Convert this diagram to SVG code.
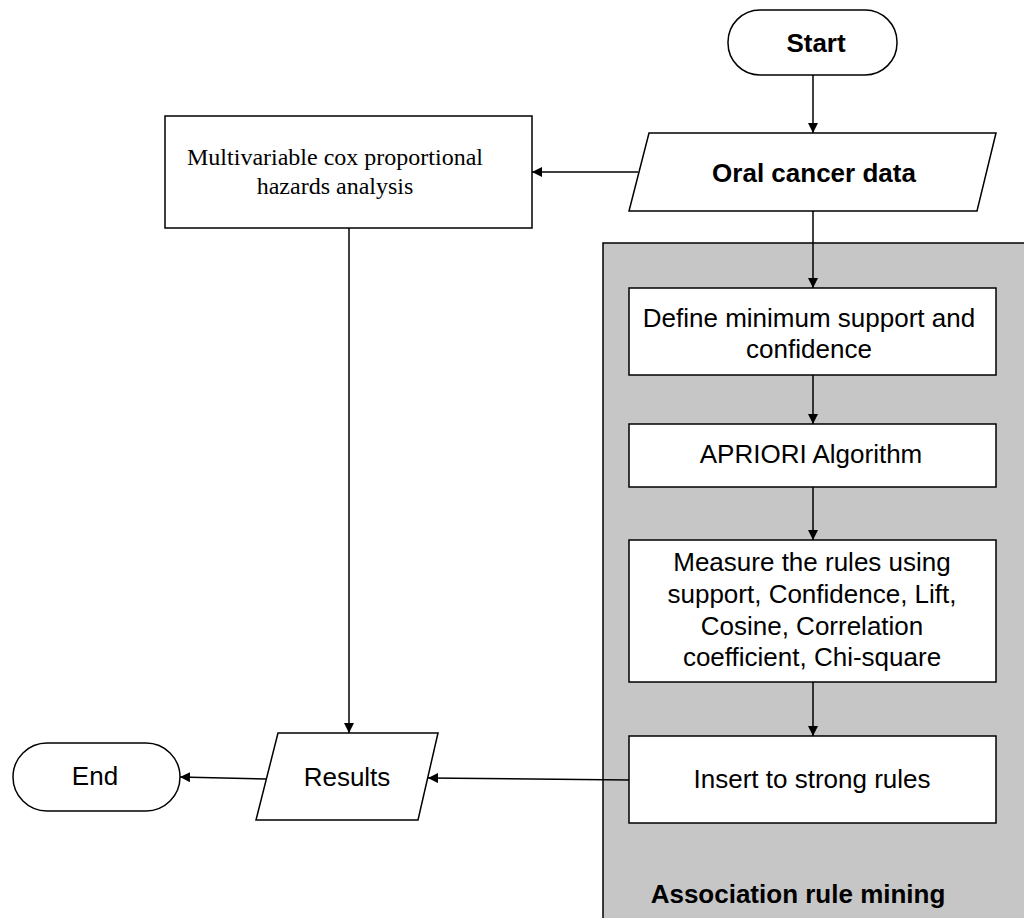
<svg xmlns="http://www.w3.org/2000/svg" width="1024" height="918" viewBox="0 0 1024 918">
<style>
.n{fill:#fff;stroke:#000;stroke-width:1.5}
.t{font-family:"Liberation Sans",Arial,sans-serif;font-size:26px;fill:#000;text-anchor:middle}
.b{font-weight:bold}
.s{font-family:"Liberation Serif","Times New Roman",serif;font-size:24px;fill:#000;text-anchor:middle}
.c{stroke:#000;stroke-width:1.5;fill:none;marker-end:url(#ah)}
</style>
<defs>
<marker id="ah" viewBox="0 0 10 10" refX="10" refY="5" markerWidth="10" markerHeight="10" markerUnits="userSpaceOnUse" orient="auto">
<path d="M0,0 L10,5 L0,10 z" fill="#000"/>
</marker>
</defs>
<rect width="1024" height="918" fill="#fff"/>
<g id="cluster">
<rect x="603" y="243" width="430" height="690" fill="#c6c6c6" stroke="#000" stroke-width="1.5"/>
<text class="t b" x="798" y="903">Association rule mining</text>
</g>
<g id="start">
<rect class="n" x="728" y="10" width="169" height="65" rx="32"/>
<text class="t b" x="816" y="52">Start</text>
</g>
<g id="oral">
<polygon class="n" points="649,133 996,133 977,211 629,211"/>
<text class="t b" x="814" y="182">Oral cancer data</text>
</g>
<g id="cox">
<rect class="n" x="165" y="116" width="367" height="112"/>
<text class="s" x="335" y="165">Multivariable cox proportional</text>
<text class="s" x="335" y="194">hazards analysis</text>
</g>
<g id="define">
<rect class="n" x="629" y="288" width="367" height="87"/>
<text class="t" x="809" y="327">Define minimum support and</text>
<text class="t" x="809" y="358">confidence</text>
</g>
<g id="apriori">
<rect class="n" x="629" y="424" width="367" height="63"/>
<text class="t" x="811" y="463">APRIORI Algorithm</text>
</g>
<g id="measure">
<rect class="n" x="629" y="540" width="367" height="142"/>
<text class="t" x="812" y="571">Measure the rules using</text>
<text class="t" x="812" y="603">support, Confidence, Lift,</text>
<text class="t" x="812" y="635">Cosine, Correlation</text>
<text class="t" x="812" y="666">coefficient, Chi-square</text>
</g>
<g id="insert">
<rect class="n" x="629" y="736" width="367" height="87"/>
<text class="t" x="812" y="788">Insert to strong rules</text>
</g>
<g id="results">
<polygon class="n" points="278,733 438,733 418,820 256,820"/>
<text class="t" x="347" y="786">Results</text>
</g>
<g id="end">
<rect class="n" x="13" y="743" width="167" height="68" rx="34"/>
<text class="t" x="95" y="785">End</text>
</g>
<g id="connectors">
<line class="c" x1="813" y1="75" x2="813" y2="133"/>
<line class="c" x1="638" y1="172" x2="532" y2="172"/>
<line class="c" x1="813" y1="211" x2="813" y2="288"/>
<line class="c" x1="813" y1="375" x2="813" y2="424"/>
<line class="c" x1="813" y1="487" x2="813" y2="540"/>
<line class="c" x1="813" y1="682" x2="813" y2="736"/>
<line class="c" x1="349" y1="228" x2="349" y2="733"/>
<line class="c" x1="629" y1="780" x2="428" y2="778"/>
<line class="c" x1="267" y1="779" x2="180" y2="777"/>
</g>
</svg>
